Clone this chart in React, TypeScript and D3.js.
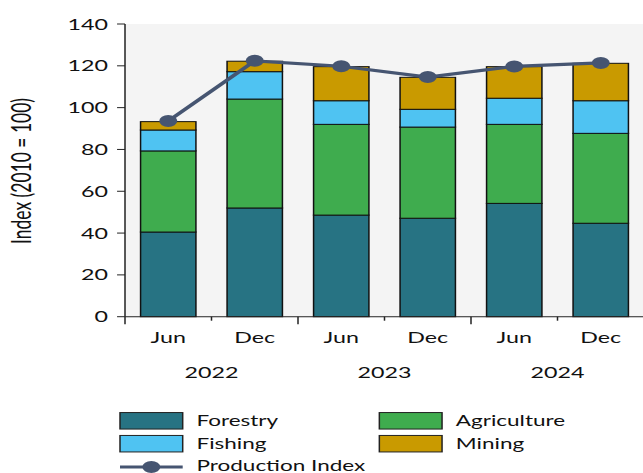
import React from 'react';
import * as d3 from 'd3';

const periods = ['Jun', 'Dec', 'Jun', 'Dec', 'Jun', 'Dec'];
const years = ['2022', '2023', '2024'];
const forestry = [40.5, 52.0, 48.6, 47.1, 54.2, 44.7];
const agriculture = [38.8, 52.1, 43.4, 43.6, 37.8, 43.0];
const fishing = [10.0, 13.1, 11.3, 8.5, 12.5, 15.6];
const mining = [4.0, 5.0, 16.3, 15.3, 15.1, 17.9];
const productionIndex = [93.6, 122.4, 119.8, 114.6, 119.7, 121.4];
const yTicks = [0, 20, 40, 60, 80, 100, 120, 140];

const seriesNames = ['Forestry', 'Agriculture', 'Fishing', 'Mining'];
const seriesColors = ['#277383', '#3fac4e', '#4fc3f2', '#c99a00'];
const lineColor = '#465571';

const W = 643;
const H = 473;
const SX = 1.5;
const BW = W / SX;

export default function App() {
  const keys = periods.map((p, i) => `${p} ${years[Math.floor(i / 2)]}`);
  const left = 125 / SX;
  const step = 86.5 / SX;
  const x = d3
    .scaleBand<string>()
    .domain(keys)
    .range([left, left + step * keys.length])
    .paddingInner(0.36)
    .paddingOuter(0.18);
  const y = d3.scaleLinear().domain([0, 140]).range([316.7, 24]);

  const rows = keys.map((k, i) => ({
    key: k,
    Forestry: forestry[i],
    Agriculture: agriculture[i],
    Fishing: fishing[i],
    Mining: mining[i],
  }));
  const stacked = d3.stack<any>().keys(seriesNames)(rows);

  const line = d3
    .line<number>()
    .x((_, i) => (x(keys[i]) as number) + x.bandwidth() / 2)
    .y((d) => y(d));

  const font = 'Lato, "DejaVu Sans", sans-serif';
  const fw = 400;
  const textColor = '#111';
  const plotRight = left + step * keys.length;
  const boundaries = d3.range(keys.length + 1).map((i) => left + i * step);

  const legendItems = [
    { name: 'Forestry', color: seriesColors[0], col: 0, row: 0 },
    { name: 'Agriculture', color: seriesColors[1], col: 1, row: 0 },
    { name: 'Fishing', color: seriesColors[2], col: 0, row: 1 },
    { name: 'Mining', color: seriesColors[3], col: 1, row: 1 },
  ];
  const legX = [80, 252.9];
  const legRowY = [420.8, 443.7];
  const swW = 41.8;
  const swH = 16.5;

  return (
    <svg
      width={W}
      height={H}
      viewBox={`0 0 ${BW} ${H}`}
      preserveAspectRatio="none"
      style={{ position: 'absolute', left: 0, top: 0, background: '#fff' }}
    >
      <rect x={left} y={y(140)} width={plotRight - left} height={y(0) - y(140)} fill="#f4f4f4" />
      {stacked.map((s, si) => (
        <g key={s.key} fill={seriesColors[si]}>
          {s.map((d, i) => (
            <rect
              key={i}
              x={x(keys[i])}
              y={y(d[1])}
              width={x.bandwidth()}
              height={y(d[0]) - y(d[1])}
              stroke="#111"
              strokeWidth={1}
            />
          ))}
        </g>
      ))}
      {/* y axis */}
      <line x1={left} x2={left} y1={y(140)} y2={y(0)} stroke="#222" strokeWidth={1} />
      {yTicks.map((t) => (
        <g key={t}>
          <line x1={left - 5.3} x2={left} y1={y(t)} y2={y(t)} stroke="#222" strokeWidth={1} />
          <text
            x={72}
            y={y(t)}
            dy="0.36em"
            textAnchor="end"
            fontFamily={font}
            fontWeight={fw}
            fontSize={15.5}
            fill={textColor}
          >
            {t}
          </text>
        </g>
      ))}
      {/* x axis */}
      <line x1={left} x2={plotRight} y1={y(0)} y2={y(0)} stroke="#222" strokeWidth={1} />
      {boundaries.map((b, i) => (
        <line
          key={i}
          x1={b}
          x2={b}
          y1={y(0)}
          y2={y(0) + (i % 2 === 0 ? 7.5 : 4)}
          stroke="#222"
          strokeWidth={1}
        />
      ))}
      {keys.map((k, i) => (
        <text
          key={k}
          x={(x(k) as number) + x.bandwidth() / 2}
          y={343.3}
          textAnchor="middle"
          fontFamily={font}
          fontWeight={fw}
          fontSize={15.5}
          fill={textColor}
        >
          {periods[i]}
        </text>
      ))}
      {years.map((yr, i) => (
        <text
          key={yr}
          x={boundaries[i * 2 + 1]}
          y={377.7}
          textAnchor="middle"
          fontFamily={font}
          fontWeight={fw}
          fontSize={15.5}
          fill={textColor}
        >
          {yr}
        </text>
      ))}
      {/* y title */}
      <text
        transform={`translate(${22 / SX},171) rotate(-90)`}
        textAnchor="middle"
        dy="0.35em"
        fontFamily={font}
        fontWeight={fw}
        fontSize={17.5}
        fill={textColor}
      >
        Index (2010 = 100)
      </text>
      {/* production index line */}
      <path d={line(productionIndex) || ''} fill="none" stroke={lineColor} strokeWidth={3.2} />
      {productionIndex.map((v, i) => (
        <circle
          key={i}
          cx={(x(keys[i]) as number) + x.bandwidth() / 2}
          cy={y(v)}
          r={6}
          fill={lineColor}
        />
      ))}
      {/* legend */}
      {legendItems.map((it) => (
        <g key={it.name}>
          <rect
            x={legX[it.col]}
            y={legRowY[it.row] - swH / 2}
            width={swW}
            height={swH}
            fill={it.color}
            stroke="#222"
            strokeWidth={1}
          />
          <text
            x={legX[it.col] + 51}
            y={legRowY[it.row]}
            dy="0.36em"
            fontFamily={font}
            fontWeight={fw}
            fontSize={15}
            fill={textColor}
          >
            {it.name}
          </text>
        </g>
      ))}
      <line x1={legX[0]} x2={legX[0] + swW} y1={467} y2={467} stroke={lineColor} strokeWidth={3.2} />
      <circle cx={legX[0] + swW / 2} cy={467} r={6} fill={lineColor} />
      <text
        x={legX[0] + 51}
        y={466}
        dy="0.36em"
        fontFamily={font}
        fontWeight={fw}
        fontSize={15}
        fill={textColor}
      >
        Production Index
      </text>
    </svg>
  );
}
